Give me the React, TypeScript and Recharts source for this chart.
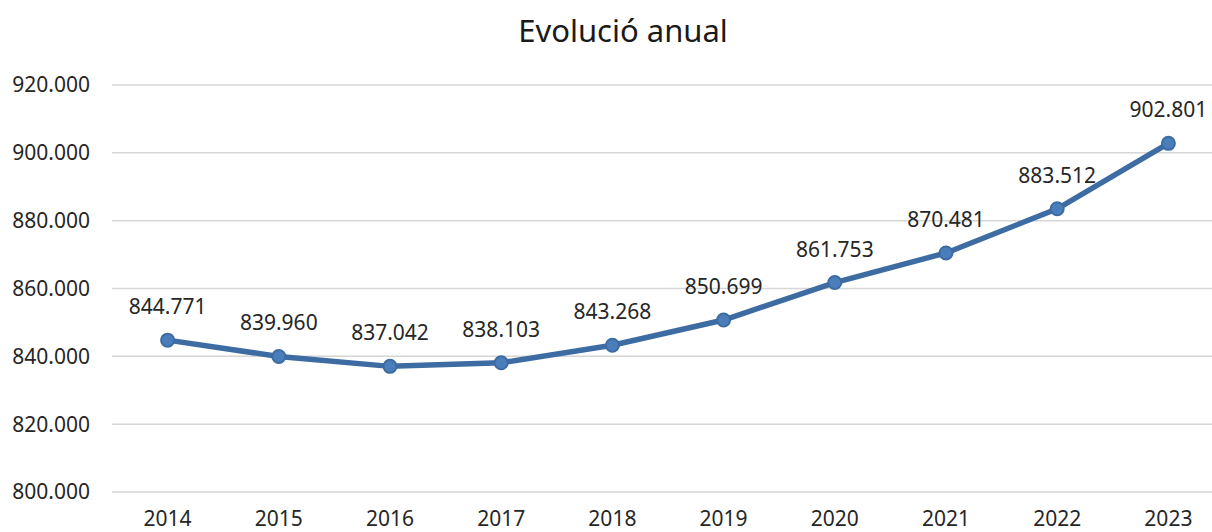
import React from "react";
import { LineChart, Line, XAxis, YAxis, CartesianGrid, LabelList } from "recharts";

const years = ["2014", "2015", "2016", "2017", "2018", "2019", "2020", "2021", "2022", "2023"];
const values = [844771, 839960, 837042, 838103, 843268, 850699, 861753, 870481, 883512, 902801];
const yTicks = [800000, 820000, 840000, 860000, 880000, 900000, 920000];
const title = "Evolució anual";

const data = years.map((y, i) => ({ year: y, value: values[i] }));

const fmt = (v: number) => {
  const s = Math.round(v).toString();
  return s.replace(/\B(?=(\d{3})+(?!\d))/g, ".");
};

const FONT = "'Noto Sans', 'Open Sans', sans-serif";

export default function App() {
  return (
    <div style={{ position: "absolute", left: 0, top: 0, width: 1212, height: 532, overflow: "hidden", background: "#fff" }}>
      <LineChart
        width={1230}
        height={532}
        data={data}
        margin={{ top: 85, right: 6, bottom: 0, left: 0 }}
      >
        <CartesianGrid vertical={false} stroke="#D6D6D6" strokeWidth={1.5} />
        <XAxis
          dataKey="year"
          axisLine={false}
          tickLine={false}
          tickSize={0}
          tickMargin={19}
          height={40}
          interval={0}
          padding={{ left: 55.6, right: 55.6 }}
          tick={{ fontSize: 21, fill: "#262626", fontFamily: FONT }}
        />
        <YAxis
          domain={[800000, 920000]}
          ticks={yTicks}
          tickFormatter={fmt}
          axisLine={false}
          tickLine={false}
          tickSize={0}
          tickMargin={22}
          width={112}
          interval={0}
          tick={{ fontSize: 21, fill: "#262626", fontFamily: FONT }}
        />
        <Line
          type="linear"
          dataKey="value"
          stroke="#3D6CA2"
          strokeWidth={5.5}
          isAnimationActive={false}
          dot={{ r: 6.5, fill: "#4A7EBB", stroke: "#3D6CA2", strokeWidth: 2 }}
          activeDot={false}
        >
          <LabelList
            dataKey="value"
            position="top"
            offset={26}
            formatter={(v: any) => fmt(Number(v))}
            style={{ fontSize: 21, fill: "#262626", fontFamily: FONT }}
          />
        </Line>
      </LineChart>
      <svg width={1212} height={80} style={{ position: "absolute", left: 0, top: 0, pointerEvents: "none" }}>
        <text x={623} y={42} textAnchor="middle" fontSize={31} fill="#1a1a1a" fontFamily={FONT}>
          {title}
        </text>
      </svg>
    </div>
  );
}
